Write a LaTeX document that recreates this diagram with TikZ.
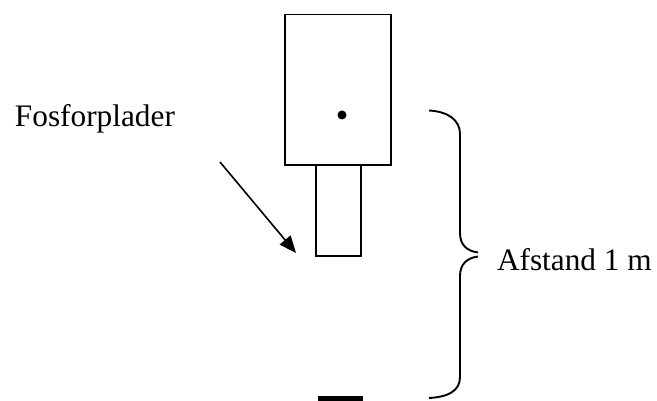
\documentclass[tikz,border=0pt]{standalone}
\usepackage{fontspec}
\setmainfont{Liberation Serif}
\usetikzlibrary{arrows.meta}
\tikzset{
  x=1pt,y=-1pt,
  box/.style={draw=black,line width=1.9pt,fill=white,inner sep=0pt,outer sep=0pt},
  lbl/.style={inner sep=0pt,outer sep=0pt,anchor=base west,font=\fontsize{31.3}{33}\selectfont},
  brace/.style={draw=black,line width=1.9pt},
  pointer/.style={draw=black,line width=1.6pt,-{Triangle[length=17pt,width=14pt]}}
}
\begin{document}
\begin{tikzpicture}
\useasboundingbox (0,0) rectangle (657,401);
\node[box,minimum width=45pt,minimum height=91pt] (tube) at (338.5,210.5) {};
\node[box,minimum width=106pt,minimum height=150.5pt] (body) at (338,89.75) {};
\node[circle,fill=black,inner sep=0pt,minimum size=9pt] (dot) at (342,115) {};
\node[fill=black,inner sep=0pt,minimum width=45pt,minimum height=5pt] (bar) at (340,398.5) {};
\node[lbl] (fos) at (15,127) {Fosforplader};
\node[lbl] (afs) at (497,271) {Afstand 1 m};
\coordinate (p0) at (220,162);
\coordinate (p1) at (296,253);
\draw[pointer] (p0) -- (p1);
\draw[brace] (429,110.5) .. controls (448,111.5) and (460,120) .. (460,134)
  -- (460,233) .. controls (460,245) and (467,251) .. (478,252.5);
\draw[brace] (478,256.5) .. controls (467,258) and (460,264) .. (460,276)
  -- (460,377) .. controls (460,391) and (448,397) .. (429,398);
\end{tikzpicture}
\end{document}
